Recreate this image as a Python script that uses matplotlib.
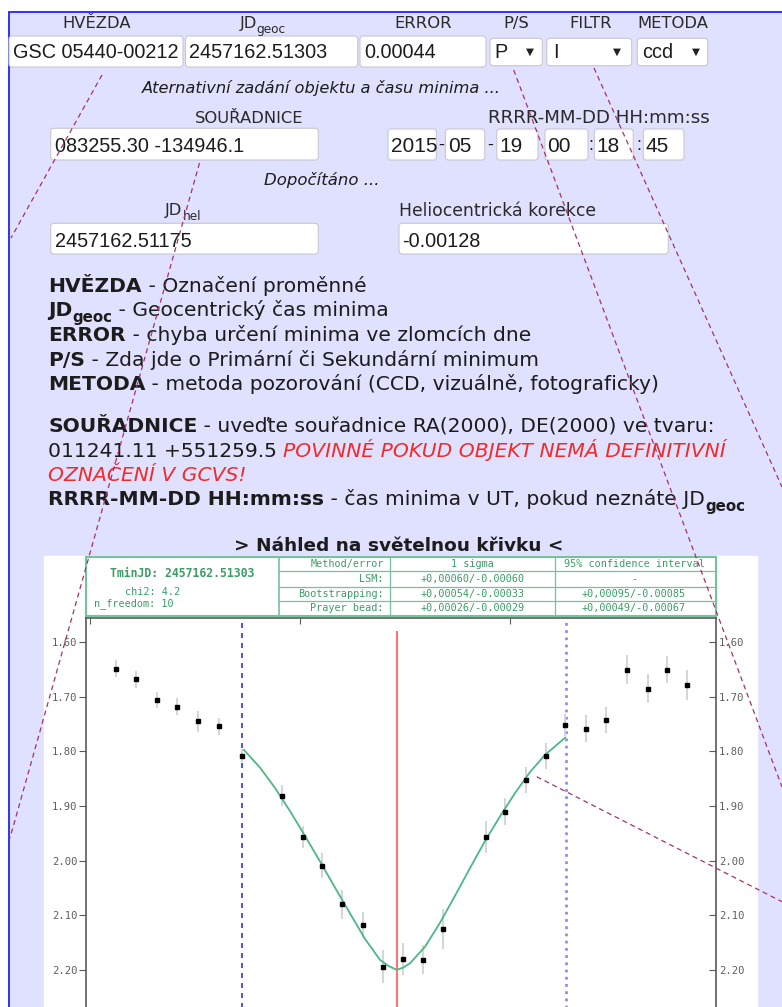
import matplotlib
matplotlib.use("Agg")
import matplotlib.pyplot as plt
from matplotlib.patches import Rectangle, FancyBboxPatch

# form contents
star = "GSC 05440-00212"
jd_geoc = "2457162.51303"
error = "0.00044"
ps_choice = "P"
filter_choice = "I"
method_choice = "ccd"
coords = "083255.30 -134946.1"
date_parts = ["2015", "05", "19", "00", "18", "45"]
date_seps = ["-", "-", "", ":", ":"]
jd_hel = "2457162.51175"
hel_corr = "-0.00128"

# light curve: JD - 2457162, magnitude, error
jd_obs = [0.50122, 0.50219, 0.50320, 0.50416, 0.50514, 0.50613, 0.50722, 0.50916,
          0.51013, 0.51106, 0.51201, 0.51299, 0.51395, 0.51489, 0.51584, 0.51680,
          0.51886, 0.51978, 0.52075, 0.52170, 0.52263, 0.52362, 0.52457, 0.52559,
          0.52656, 0.52748, 0.52844]
mag_obs = [1.648, 1.668, 1.706, 1.718, 1.745, 1.754, 1.808, 1.881,
           1.956, 2.009, 2.080, 2.118, 2.194, 2.180, 2.181, 2.125,
           1.957, 1.910, 1.852, 1.808, 1.751, 1.758, 1.743, 1.650,
           1.685, 1.650, 1.678]
err_obs = [0.015, 0.015, 0.015, 0.016, 0.019, 0.016, 0.012, 0.019,
           0.020, 0.023, 0.027, 0.024, 0.030, 0.029, 0.027, 0.037,
           0.029, 0.024, 0.024, 0.024, 0.020, 0.025, 0.024, 0.026,
           0.027, 0.025, 0.027]
# model curve
jd_fit = [0.507333, 0.508095, 0.508810, 0.509524, 0.510238, 0.510952, 0.511667,
          0.512381, 0.513095, 0.513810, 0.514214, 0.514605, 0.514929, 0.515238,
          0.515952, 0.516667, 0.517381, 0.518095, 0.518810, 0.519524, 0.520238,
          0.520952, 0.521667, 0.522633]
mag_fit = [1.7973, 1.8295, 1.8667, 1.9092, 1.9546, 2.0013, 2.0493,
           2.0965, 2.1432, 2.1817, 2.1928, 2.2000, 2.1955, 2.1879,
           2.1577, 2.1137, 2.0643, 2.0136, 1.9641, 1.9189, 1.8762,
           1.8377, 1.8062, 1.7745]
t_min = 0.51461
fit_window = [0.50725, 0.52267]
yticks = [1.60, 1.70, 1.80, 1.90, 2.00, 2.10, 2.20]
xticks = [0.50, 0.51, 0.52]

tmin_label = "TminJD: 2457162.51303"
chi2_label = "chi2: 4.2"
nfree_label = "n_freedom: 10"
table_head = ["Method/error", "1 sigma", "95% confidence interval"]
methods = ["LSM:", "Bootstrapping:", "Prayer bead:"]
sigma1 = ["+0,00060/-0.00060", "+0,00054/-0.00033", "+0,00026/-0.00029"]
conf95 = ["-", "+0,00095/-0.00085", "+0,00049/-0.00067"]

fig = plt.figure(figsize=(7.82, 10.07), dpi=100)
bg = fig.add_axes([0, 0, 1, 1])
bg.set_xlim(0, 782)
bg.set_ylim(1007, 0)
bg.axis("off")
bg.set_zorder(0)
renderer = fig.canvas.get_renderer()

LAV = "#e0e0ff"
bg.add_patch(Rectangle((0, 0), 782, 1007, color="white", zorder=0))
bg.add_patch(Rectangle((8.5, 11.5), 800, 1100, facecolor=LAV, edgecolor="#3030ff", lw=1.4, zorder=0.5))
bg.add_patch(Rectangle((44, 556), 713, 460, color="white", zorder=0.6))


def width(s, **kw):
    t = bg.text(0, 0, "|" + s + "|", **kw)
    w = t.get_window_extent(renderer).width
    t.set_text("||")
    w -= t.get_window_extent(renderer).width
    t.remove()
    return w


def run_kw(p, size, family):
    sz = size * (0.74 if p.get("sub") else 1)
    return dict(family=family, fontsize=sz, fontweight=p.get("weight", "normal"),
                fontstyle=p.get("style", "normal"), color=p.get("color", "#1c1c1c"))


def line_width(runs, size, family):
    return sum(width(s, **run_kw(p, size, family)) for s, p in runs)


def fit(x, runs, x_end, size=10, family="DejaVu Sans"):
    return size * (x_end - x) / line_width(runs, size, family)


def write(x, y, runs, size, family="DejaVu Sans", center=False):
    if center:
        x -= line_width(runs, size, family) / 2
    for s, p in runs:
        kw = run_kw(p, size, family)
        dy = 0.3 * size * 100 / 72 if p.get("sub") else 0
        bg.text(x, y + dy, s, va="baseline", ha="left", zorder=3, **kw)
        x += width(s, **kw)


N = {}
B = {"weight": "bold"}
Bs = {"weight": "bold", "sub": True}
I = {"style": "italic"}
RI = {"style": "italic", "color": "#f22a2a"}
LB = {"color": "#2a2a2a"}
LBs = {"color": "#2a2a2a", "sub": True}

# field labels
lab_size = 0.5 * (fit(62, [("HVĚZDA", LB)], 131) + fit(637.4, [("METODA", LB)], 708.2))
write(96.5, 28.3, [("HVĚZDA", LB)], lab_size, center=True)
write(239.4, 28.3, [("JD", LB), ("geoc", LBs)], lab_size)
write(423.5, 28.3, [("ERROR", LB)], lab_size, center=True)
write(515.8, 28.3, [("P/S", LB)], lab_size, center=True)
write(591, 28.3, [("FILTR", LB)], lab_size, center=True)
write(672.8, 28.3, [("METODA", LB)], lab_size, center=True)


def box(x0, y0, x1, y1, r=3):
    p = FancyBboxPatch((x0, y0), x1 - x0, y1 - y0, boxstyle=f"round,pad=0,rounding_size={r}",
                       facecolor="white", edgecolor="#c8c8d4", lw=0.8, zorder=1)
    bg.add_patch(p)
    return p


INP = "Liberation Sans"
inp_size = fit(188.5, [(jd_geoc, N)], 326.7, family=INP)

box(9, 36, 183, 67)
box(185.5, 36, 357.6, 67)
box(360, 36, 486, 67)
write(13, 58.3, [(star, N)], inp_size, family=INP)
write(188.5, 58.3, [(jd_geoc, N)], inp_size, family=INP)
write(364, 58.3, [(error, N)], inp_size, family=INP)
for (x0, x1, val, tx, ax_) in [(490, 542.3, ps_choice, 494.5, 530),
                                (546.7, 631.7, filter_choice, 553, 616.7),
                                (637.3, 707.7, method_choice, 642, 695.7)]:
    box(x0, 38.3, x1, 65.7)
    write(tx, 58.3, [(val, N)], inp_size, family=INP)
    bg.text(ax_, 52, "▼", fontsize=7.5, ha="center", va="center", color="#222222", zorder=3)

alt = [("Aternativní zadání objektu a času minima ...", I)]
write(142, 93, alt, fit(142, alt, 501))
write(249.2, 123.3, [("SOUŘADNICE", LB)], lab_size, center=True)
dt_lab = [("RRRR-MM-DD HH:mm:ss", LB)]
write(488.3, 123.3, dt_lab, fit(488.3, dt_lab, 710))

box(50.7, 128.3, 318.3, 160)
write(55, 151.7, [(coords, N)], inp_size, family=INP)
date_boxes = [(388, 436.4), (445.4, 484.8), (496.7, 538), (545, 588), (594.3, 633.3), (643.3, 684)]
sep_x = [441, 490, None, 590.5, 638.5]
for i, ((x0, x1), part) in enumerate(zip(date_boxes, date_parts)):
    box(x0, 129, x1, 160)
    t = bg.text(x0 + 2.5, 151.7, part, fontsize=inp_size * 1.05, family=INP, va="baseline",
                ha="left", color="#1c1c1c", zorder=3)
    t.set_clip_path(Rectangle((x0, 129), x1 - x0 - 2.5, 31, transform=bg.transData))
    if i < len(date_seps) and date_seps[i]:
        bg.text(sep_x[i], 150, date_seps[i], fontsize=inp_size * 0.9, family=INP,
                va="baseline", ha="center", color="#1c1c1c", zorder=3)

dop = [("Dopočítáno ...", I)]
write(264.3, 185, dop, fit(264.3, dop, 379))
write(165, 215, [("JD", LB), ("hel", LBs)], lab_size)
hel_lab = [("Heliocentrická korekce", LB)]
write(399, 216, hel_lab, fit(399, hel_lab, 596))
box(50.7, 223.3, 318.3, 254)
box(399, 223.3, 668.3, 254)
write(55, 246.7, [(jd_hel, N)], inp_size, family=INP)
write(402, 246.7, [(hel_corr, N)], inp_size, family=INP)

# description
desc = [
    (291.7, [("HVĚZDA", B), (" - Označení proměnné", N)], 360),
    (316.3, [("JD", B), ("geoc", Bs), (" - Geocentrický čas minima", N)], 400),
    (341, [("ERROR", B), (" - chyba určení minima ve zlomcích dne", N)], 531),
    (365.5, [("P/S", B), (" - Zda jde o Primární či Sekundární minimum", N)], 552),
    (390, [("METODA", B), (" - metoda pozorování (CCD, vizuálně, fotograficky)", N)], 657),
    (432.5, [("SOUŘADNICE", B), (" - uveďte souřadnice RA(2000), DE(2000) ve tvaru:", N)], 708),
    (456.8, [("011241.11 +551259.5 ", N), ("POVINNÉ POKUD OBJEKT NEMÁ DEFINITIVNÍ", RI)], 765.6),
    (481, [("OZNAČENÍ V GCVS!", RI)], 258.4),
    (505.3, [("RRRR-MM-DD HH:mm:ss", B), (" - čas minima v UT, pokud neznáte JD", N), ("geoc", Bs)], 733),
]
sizes = sorted(fit(48, runs, xe) for _, runs, xe in desc)
desc_size = sizes[len(sizes) // 2]
for y, runs, xe in desc:
    write(48, y, runs, desc_size)

head = [("> Náhled na světelnou křivku <", B)]
write(234.4, 551, head, fit(234.4, head, 563.6))

# result table
G_LINE = "#74c39a"
G_TXT = "#3c9d66"
MONO = "DejaVu Sans Mono"
bg.add_patch(Rectangle((86, 556.7), 630, 59.3, fill=False, edgecolor=G_LINE, lw=1.5, zorder=2))
bg.plot([279, 279], [556.7, 616], color=G_LINE, lw=1.2, zorder=2)
for xv in [390.4, 554.7]:
    bg.plot([xv, xv], [556.7, 616], color=G_LINE, lw=0.9, zorder=2)
for yv in [570.7, 586.7, 600.7]:
    bg.plot([279, 716], [yv, yv], color=G_LINE, lw=0.9, zorder=2)
bg.text(182.5, 573.3, tmin_label, family=MONO, fontweight="bold", fontsize=8.3,
        color=G_TXT, ha="center", va="center", zorder=3)
bg.text(125, 591.7, chi2_label, family=MONO, fontsize=7.3, color=G_TXT, ha="left", va="center", zorder=3)
bg.text(94.3, 603.3, nfree_label, family=MONO, fontsize=7.3, color=G_TXT, ha="left", va="center", zorder=3)
row_y = [563.7, 578.7, 593.7, 608.3]
col1 = [table_head[0]] + methods
col2 = [table_head[1]] + sigma1
col3 = [table_head[2]] + conf95
for y, a, b, c in zip(row_y, col1, col2, col3):
    kw = dict(family=MONO, fontsize=7.3, color=G_TXT, va="center", zorder=3)
    bg.text(384, y, a, ha="right", **kw)
    bg.text(472.5, y, b, ha="center", **kw)
    bg.text(634, y, c, ha="center", **kw)

# light curve plot
ax = fig.add_axes([85.7 / 782, (1007 - 1030) / 1007, (716 - 85.7) / 782, 412 / 1007])
ax.set_zorder(1)
ax.set_xlim(0.499795, 0.529810)
ax.set_ylim(2.3101, 1.5555)
ax.errorbar(jd_obs, mag_obs, yerr=err_obs, fmt="none", ecolor="#d2d2d2", elinewidth=1.3, zorder=2)
ax.plot(jd_obs, mag_obs, "s", color="black", ms=3.4, zorder=4)
ax.plot(jd_fit, mag_fit, color="#4cb884", lw=1.3, zorder=3)
ax.axvline(fit_window[0], color="#2f2fff", lw=1.2, ls=(0, (3, 3)), zorder=1)
ax.axvline(fit_window[1], color="#8c8cff", lw=2, ls=(0, (1, 1.6)), zorder=1)
ax.vlines(t_min, 1.579, 2.3101, color="#ff7373", lw=1.5, zorder=1)

for sp in ax.spines.values():
    sp.set_color("#5a5a5a")
    sp.set_linewidth(1.2)
ax.set_xticks(xticks)
ax.tick_params(axis="x", top=True, bottom=False, labeltop=False, labelbottom=False,
               direction="in", length=4, color="#5a5a5a")
ax.set_yticks(yticks)
ax.set_yticklabels([f"{v:.2f}" for v in yticks])
ax.tick_params(axis="y", left=True, right=False, direction="out", length=5, pad=1,
               color="#5a5a5a", labelcolor="#5f5f5f", labelsize=7.6)
for lab in ax.get_yticklabels():
    lab.set_family(MONO)

ax2 = ax.twinx()
ax2.set_zorder(2)
ax2.set_ylim(ax.get_ylim())
ax2.set_yticks(yticks)
ax2.set_yticklabels([f"{v:.2f}" for v in yticks])
ax2.tick_params(axis="y", right=True, direction="in", length=5, pad=2,
                color="#5a5a5a", labelcolor="#5f5f5f", labelsize=7.6)
for lab in ax2.get_yticklabels():
    lab.set_family(MONO)
for sp in ax2.spines.values():
    sp.set_visible(False)

# dashed guide strokes lying over the page
ov = fig.add_axes([0, 0, 1, 1], facecolor="none")
ov.set_zorder(3)
ov.set_xlim(0, 782)
ov.set_ylim(1007, 0)
ov.axis("off")
strokes = [((102, 75), (11, 238)), ((199.5, 163), (10, 838)), ((513.7, 70), (782, 787)),
           ((594, 68), (782, 487)), ((536.7, 776.7), (782, 901.7))]
for (x0, y0), (x1, y1) in strokes:
    ov.plot([x0, x1], [y0, y1], color="#a3336b", lw=0.9, ls=(0, (4, 3)))

fig.savefig("out.png", dpi=100)
